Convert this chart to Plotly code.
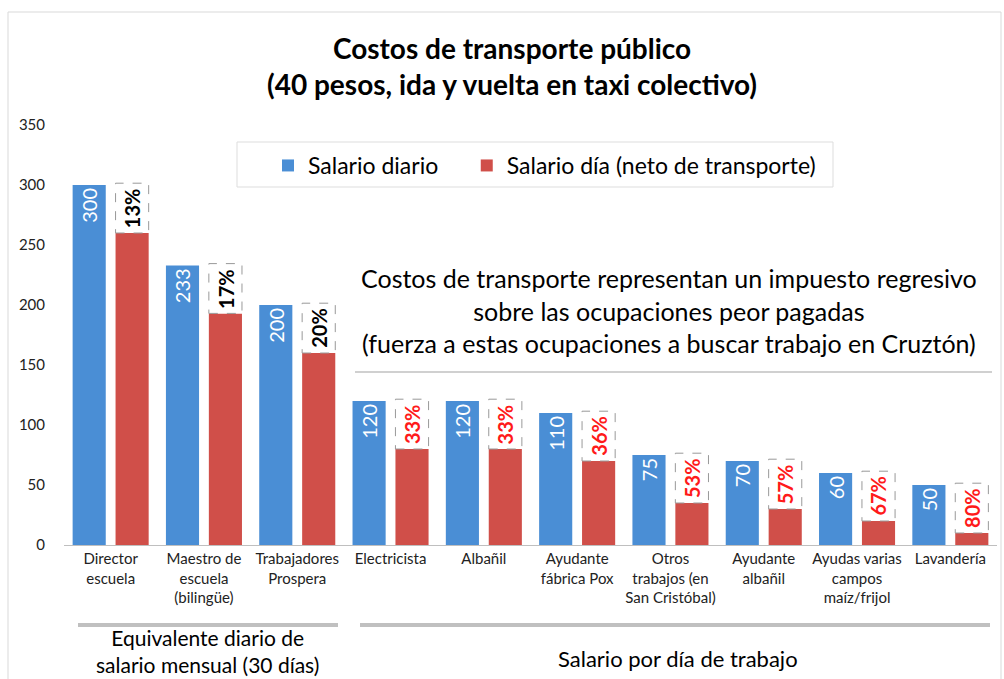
import plotly.graph_objects as go

categories = ["Director<br>escuela", "Maestro de<br>escuela<br>(bilingüe)", "Trabajadores<br>Prospera",
              "Electricista", "Albañil", "Ayudante<br>fábrica Pox", "Otros<br>trabajos (en<br>San Cristóbal)",
              "Ayudante<br>albañil", "Ayudas varias<br>campos<br>maíz/frijol", "Lavandería"]
salario_diario = [300, 233, 200, 120, 120, 110, 75, 70, 60, 50]
salario_neto = [260, 193, 160, 80, 80, 70, 35, 30, 20, 10]
porcentaje = ["13%", "17%", "20%", "33%", "33%", "36%", "53%", "57%", "67%", "80%"]
pct_color = ["black"] * 3 + ["#ff1a1a"] * 7
series_names = ["Salario diario", "Salario día (neto de transporte)"]

FONT = "Lato"
W, H = 1004, 679
L, R, T, B = 64, 997, 125, 545  # plot area in px

def px(xp):
    return (xp - L) / (R - L)

def py(yp):
    return (B - yp) / (B - T)

n = len(categories)
xs = list(range(n))
off = 0.23
bw = 0.355

fig = go.Figure()
fig.add_trace(go.Bar(
    x=[i - off for i in xs], y=salario_diario, width=bw, name=series_names[0] + "\u00a0" * 4,
    marker=dict(color="#4a8ed5", line=dict(width=0)),
    text=[str(v) for v in salario_diario], textposition="inside", insidetextanchor="end",
    textangle=-90, textfont=dict(color="white", size=20, family=FONT),
    hoverinfo="skip",
))
fig.add_trace(go.Bar(
    x=[i + off for i in xs], y=salario_neto, width=bw, name=series_names[1],
    marker=dict(color="#d04f49", line=dict(width=0)),
    hoverinfo="skip",
))

shapes = []
annotations = []
for i in xs:
    top = salario_diario[i] + 1.5
    shapes.append(dict(type="rect", xref="x", yref="y", x0=i + off - bw / 2, x1=i + off + bw / 2,
                       y0=salario_neto[i], y1=top, line=dict(color="#999999", width=1, dash="dash"),
                       fillcolor="white", layer="above"))
    annotations.append(dict(x=i + off, y=(salario_neto[i] + top) / 2, xref="x", yref="y",
                            xanchor="center", yanchor="middle",
                            text="<b>%s</b>" % porcentaje[i], showarrow=False, textangle=-90,
                            font=dict(family=FONT, size=20, color=pct_color[i])))

# frame
shapes.append(dict(type="rect", xref="paper", yref="paper", x0=px(8), x1=px(1001), y0=py(12), y1=py(690),
                   line=dict(color="#d9d9d9", width=1), layer="below"))
# legend box
shapes.append(dict(type="rect", xref="paper", yref="paper", x0=px(237), x1=px(833), y0=py(142), y1=py(187),
                   line=dict(color="#dddddd", width=1), fillcolor="white", layer="below"))
# separator line under note
shapes.append(dict(type="line", xref="paper", yref="paper", x0=px(355), x1=px(992), y0=py(372), y1=py(372),
                   line=dict(color="#d0d0d0", width=2)))
# group bars
shapes.append(dict(type="line", xref="paper", yref="paper", x0=px(78), x1=px(338), y0=py(625), y1=py(625),
                   line=dict(color="#c0c0c0", width=4)))
shapes.append(dict(type="line", xref="paper", yref="paper", x0=px(360), x1=px(990), y0=py(625), y1=py(625),
                   line=dict(color="#c0c0c0", width=4)))

def note(xp, yp, text, size, bold=False):
    annotations.append(dict(x=px(xp), y=py(yp), xref="paper", yref="paper", showarrow=False,
                            xanchor="center", yanchor="middle",
                            text=("<b>%s</b>" % text) if bold else text,
                            font=dict(family=FONT, size=size, color="black"), align="center"))

note(512, 66, "Costos de transporte público<br>(40 pesos, ida y vuelta en taxi colectivo)", 28, bold=True)
note(669, 310, "Costos de transporte representan un impuesto regresivo<br>sobre las ocupaciones peor pagadas<br>(fuerza a estas ocupaciones a buscar trabajo en Cruztón)", 25)
note(207, 651, "Equivalente diario de<br>salario mensual (30 días)", 21)
note(678, 658, "Salario por día de trabajo", 22)

fig.update_layout(
    width=W, height=H,
    margin=dict(l=L, r=W - R, t=T, b=H - B, pad=0),
    paper_bgcolor="white", plot_bgcolor="white",
    barmode="overlay",
    showlegend=True,
    legend=dict(orientation="h", x=px(268), xanchor="left", y=py(144), yanchor="top",
                font=dict(family=FONT, size=23, color="black"), bgcolor="rgba(0,0,0,0)",
                itemwidth=30),
    xaxis=dict(range=[-0.5, n - 0.5], tickvals=xs, ticktext=categories, showgrid=False, zeroline=False,
               showline=True, linecolor="#bfbfbf", linewidth=1, ticks="",
               tickfont=dict(family=FONT, size=15, color="#222"), tickangle=0),
    yaxis=dict(range=[0, 350], dtick=50, showgrid=False, zeroline=False, showline=False,
               ticklabelstandoff=18, tickfont=dict(family=FONT, size=15, color="#222")),
    shapes=shapes, annotations=annotations,
    font=dict(family=FONT),
)

fig.write_html("out.html", config={"displayModeBar": False},
               post_script="document.body.style.margin='0';")
